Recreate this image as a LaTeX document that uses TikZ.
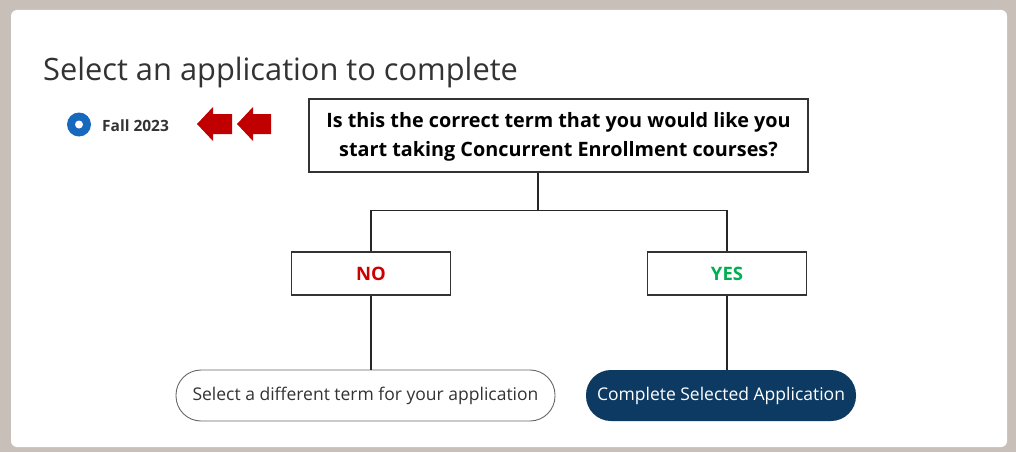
\documentclass[tikz,border=0pt]{standalone}
\usepackage{fontspec}
\setmainfont{Open Sans}
\usetikzlibrary{calc}
\definecolor{bggrey}{HTML}{C8BFB8}
\definecolor{radioblue}{HTML}{1769BE}
\definecolor{arrowred}{HTML}{C00000}
\definecolor{nored}{HTML}{CC0000}
\definecolor{yesgreen}{HTML}{00B050}
\definecolor{navy}{HTML}{0D3A62}
\definecolor{txtgrey}{HTML}{333333}
\tikzset{
  qbox/.style={draw=black!80, line width=1.2pt, fill=white, minimum width=159pt, minimum height=43pt, inner sep=0pt, font=\bfseries\fontsize{18.5}{20}\selectfont},
  conn/.style={draw=black!85, line width=1.2pt},
  pill/.style={rounded corners=25pt, minimum height=51pt, inner sep=0pt, font=\fontsize{17.5}{20}\selectfont},
  redarrow/.style={fill=arrowred}
}
\begin{document}
\begin{tikzpicture}[x=1pt,y=-1pt]
\useasboundingbox (0,0) rectangle (1016,452);
\fill[bggrey] (0,0) rectangle (1016,452);
\fill[white, rounded corners=6pt] (11,10) rectangle (1007,447);
% title
\node[anchor=base west, inner sep=0pt, text=txtgrey, font=\fontsize{30.8}{36}\selectfont] (title) at (43,80) {Select an application to complete};
% radio
\node[circle, fill=radioblue, minimum size=24pt, inner sep=0pt] (radio) at (79,124.5) {};
\node[circle, fill=white, minimum size=8pt, inner sep=0pt] (radioin) at (radio.center) {};
\node[anchor=west, inner sep=0pt, text=txtgrey, font=\bfseries\fontsize{15.5}{18}\selectfont] (fall) at (102,126) {Fall 2023};
% red arrows
\fill[redarrow] (197,124) -- (213,107) -- (213,114) -- (232,114) -- (232,134) -- (213,134) -- (213,141) -- cycle;
\fill[redarrow] (237,124) -- (253,107) -- (253,114) -- (271,114) -- (271,134) -- (253,134) -- (253,141) -- cycle;
% question
\node[draw=black!80, line width=1.2pt, fill=white, minimum width=499pt, minimum height=73pt, inner sep=0pt, align=center, font=\bfseries\fontsize{19.8}{29}\selectfont] (q) at (558.5,135.5) {\rule{0pt}{17pt}Is this the correct term that you would like you\\start taking Concurrent Enrollment courses?};
% yes / no
\node[qbox, text=nored] (no) at (371,273.5) {NO};
\node[qbox, text=yesgreen] (yes) at (727,273.5) {YES};
% pills
\node[pill, draw=black!60, line width=0.9pt, fill=white, text=txtgrey, minimum width=379pt] (p1) at (365.5,395.5) {Select a different term for your application};
\node[pill, fill=navy, text=white, minimum width=270pt] (p2) at (721,395.5) {Complete Selected Application};
% connectors
\coordinate (top) at ($(q.south)+(-20.5,0)$);
\coordinate (split) at ($(top)+(0,38)$);
\draw[conn] (top) -- (split) -| (no.north);
\draw[conn] (split) -| (yes.north);
\draw[conn] (no.south) -- (no.south |- p1.north);
\draw[conn] (yes.south) -- (yes.south |- p2.north);
\end{tikzpicture}
\end{document}
